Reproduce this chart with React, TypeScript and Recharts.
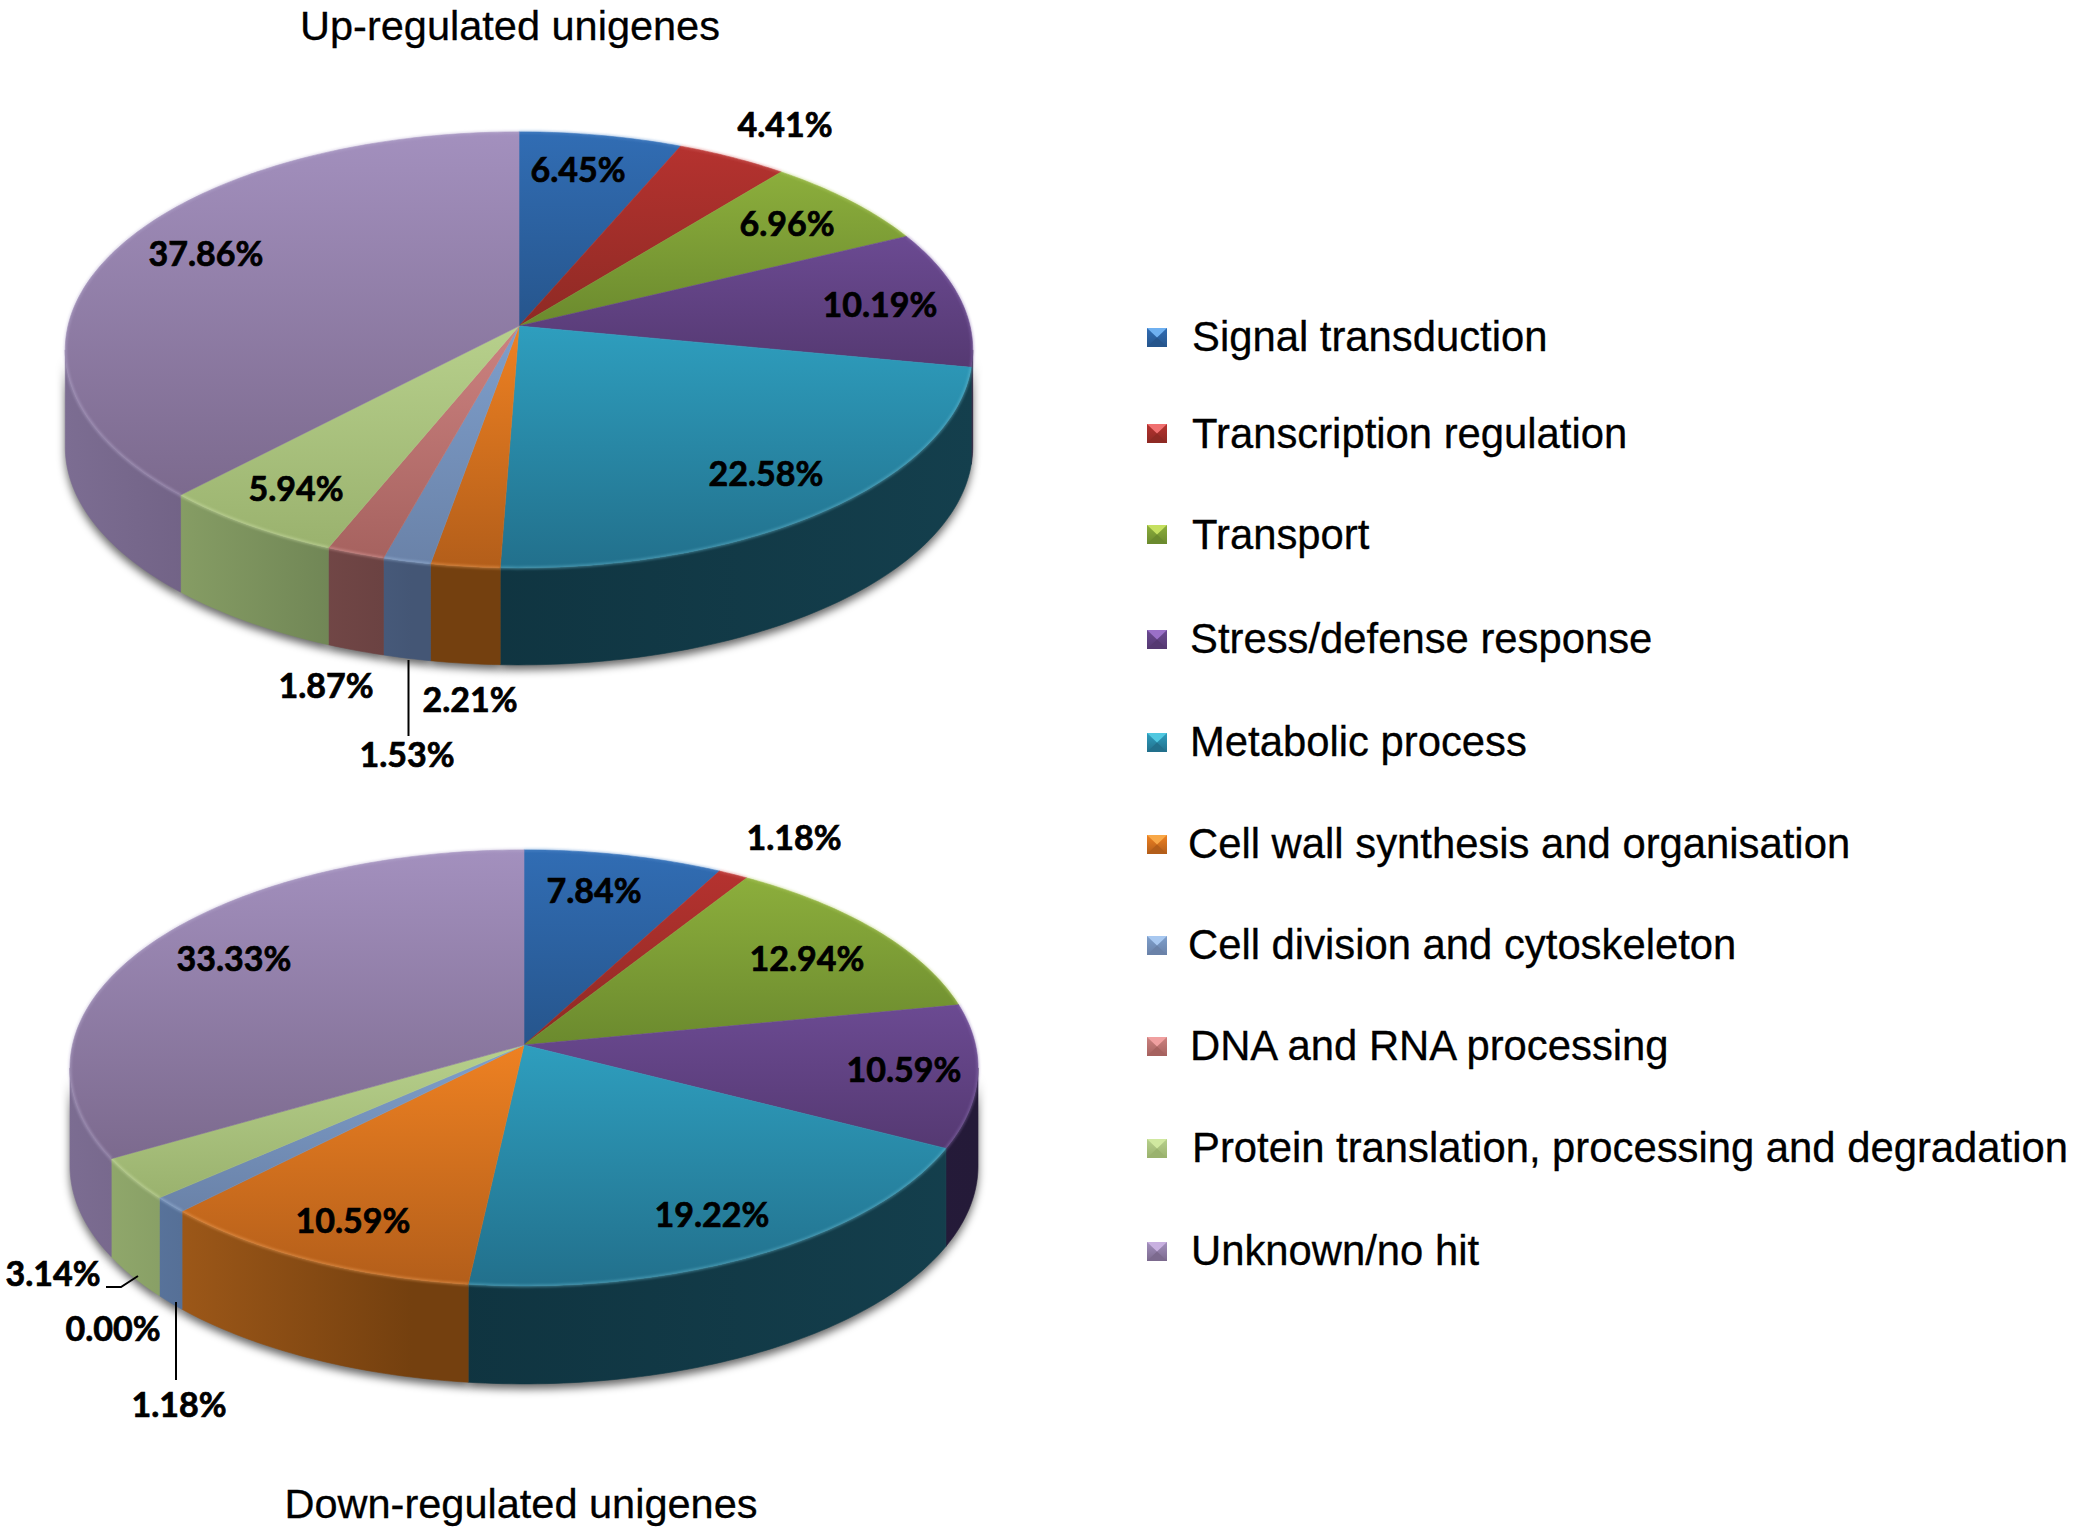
import React from "react";
import { PieChart, Pie, Legend } from "recharts";

const categories = [
  "Signal transduction",
  "Transcription regulation",
  "Transport",
  "Stress/defense response",
  "Metabolic process",
  "Cell wall synthesis and organisation",
  "Cell division and cytoskeleton",
  "DNA and RNA processing",
  "Protein translation, processing and degradation",
  "Unknown/no hit",
];
const upValues = [6.45, 4.41, 6.96, 10.19, 22.58, 2.21, 1.53, 1.87, 5.94, 37.86];
const downValues = [7.84, 1.18, 12.94, 10.59, 19.22, 10.59, 1.18, 0.0, 3.14, 33.33];
const upTitle = "Up-regulated unigenes";
const downTitle = "Down-regulated unigenes";

const upData = categories.map((name, i) => ({ name, value: upValues[i] }));
const downData = categories.map((name, i) => ({ name, value: downValues[i] }));

// styling
const topLight = ["#316DB4", "#B5322F", "#8CAE3C", "#6B4A92", "#2E9EBE", "#EE8122", "#7E9FCC", "#CC8280", "#B7D08C", "#A390BE"];
const topDark = ["#26558C", "#8E2A24", "#6B8A2E", "#553972", "#22708C", "#B35E1A", "#6A82A8", "#A6625F", "#9AB26E", "#7C6A8E"];
const rimColor = ["#5b8fd0", "#d86a66", "#b4d06a", "#8f72b4", "#6cc0d8", "#f7a860", "#a8c4e6", "#e4aaa8", "#d4e6b0", "#bcaed2"];
const wallStops = [
  ["#2a5590", "#1d3b66", "#1d3b66"],
  ["#7a2a28", "#5a1f1c", "#5a1f1c"],
  ["#5e7430", "#445423", "#445423"],
  ["#3a2960", "#2a1d44", "#241a38"],
  ["#1a5264", "#0f333f", "#143f4d"],
  ["#b0631d", "#74400f", "#74400f"],
  ["#5f7da8", "#445675", "#445675"],
  ["#8c5a58", "#684040", "#684040"],
  ["#96ae6f", "#657a4e", "#657a4e"],
  ["#7c6d92", "#5f5070", "#5f5070"],
];
const markerLight = ["#6FB0F0", "#F07070", "#C5E060", "#9A70C8", "#50C8E0", "#F8A848", "#A8C8F0", "#F0A0A0", "#D0E8A0", "#C8B0E0"];

// perspective of each disc
const upGeo = { cx: 519, cy: 326, rx: 451, ry: 218, k: -0.1096, depth: 97 };
const downGeo = { cx: 524, cy: 1045, rx: 451.5, ry: 218, k: -0.105, depth: 98 };

const upLabelPos: [number, number][] = [
  [578, 168.5], [785, 123.5], [787, 222.5], [880, 303.5], [766, 472.5],
  [470, 698.5], [407, 753.5], [326, 684.5], [296, 487.5], [206, 252.5],
];
const downLabelPos: [number, number][] = [
  [594, 889.5], [794, 836.5], [807, 957.5], [904, 1068.5], [712, 1213.5],
  [353, 1219.5], [179, 1403.5], [113, 1327.5], [53, 1272.5], [234, 957.5],
];
const upLeaders: Record<number, string> = { 6: "408.5,660 408.5,736" };
const downLeaders: Record<number, string> = {
  6: "176,1302 176,1380",
  8: "106,1287 121,1287 138,1276",
};

const legendTextX = [1192, 1192, 1192, 1190, 1190, 1188, 1188, 1190, 1192, 1191];
const legendY = [337, 433.5, 534.5, 639, 742, 844, 945, 1046, 1148, 1251];

type Geo = typeof upGeo;

const rimPoint = (g: Geo, clockDeg: number) => {
  const t = (clockDeg * Math.PI) / 180;
  const X = Math.sin(t);
  const Y = -Math.cos(t);
  const den = 1 + g.k * Y;
  const b = g.k * g.ry;
  return {
    x: g.cx + (X * g.rx) / den,
    y: g.cy + (g.ry * Y + b) / den - b,
  };
};

const sample = (g: Geo, a: number, b: number) => {
  const pts: { x: number; y: number }[] = [];
  const n = Math.max(1, Math.ceil(b - a));
  for (let i = 0; i <= n; i++) pts.push(rimPoint(g, a + ((b - a) * i) / n));
  return pts;
};

const toPath = (pts: { x: number; y: number }[]) =>
  pts.map((p, i) => `${i ? "L" : "M"}${p.x.toFixed(2)} ${p.y.toFixed(2)}`).join("");

const wallPath = (g: Geo, props: any) => {
  const a = 90 - props.startAngle;
  const b = 90 - props.endAngle;
  const lim = (Math.acos(g.k) * 180) / Math.PI;
  const s = Math.max(a, lim);
  const e = Math.min(b, 360 - lim);
  if (e <= s) return null;
  const pts = sample(g, s, e);
  const low = pts.slice().reverse().map((p) => ({ x: p.x, y: p.y + g.depth }));
  return toPath(pts.concat(low)) + "Z";
};

const makeShadow = (g: Geo) => (props: any) => {
  const d = wallPath(g, props);
  if (!d) return <g />;
  return <path d={d} fill="#000" fillOpacity={0.6} transform="translate(0 5)" filter="url(#pieShadow)" />;
};

const makeWall = (g: Geo) => (props: any) => {
  const d = wallPath(g, props);
  if (!d) return <g />;
  const paint = `url(#wall-${props.index})`;
  return <path d={d} fill={paint} stroke={paint} strokeWidth={0.6} />;
};

const makeTop = (g: Geo) => (props: any) => {
  const a = 90 - props.startAngle;
  const b = 90 - props.endAngle;
  if (b - a <= 0) return <g />;
  const pts = sample(g, a, b);
  const paint = `url(#top-${props.index})`;
  return (
    <g>
      <path d={`M${g.cx} ${g.cy}` + toPath(pts).replace("M", "L") + "Z"} fill={paint} stroke={paint} strokeWidth={0.6} />
      <path d={toPath(pts)} fill="none" stroke={rimColor[props.index]} strokeOpacity={0.4} strokeWidth={3} filter="url(#rimBlur)" />
    </g>
  );
};

const makeLabel = (pos: [number, number][]) => (props: any) => {
  const [x, y] = pos[props.index];
  return (
    <text
      key={props.index}
      x={x}
      y={y}
      textAnchor="middle"
      dominantBaseline="central"
      fontFamily="Lato"
      fontWeight={700}
      fontSize={34}
      fill="#000"
      stroke="#000"
      strokeWidth={0.7}
    >
      {Number(props.value).toFixed(2)}%
    </text>
  );
};

const makeLeader = (leaders: Record<number, string>) => (props: any) => {
  const pts = leaders[props.index];
  if (!pts) return <g key={props.index} />;
  return <polyline key={props.index} points={pts} fill="none" stroke="#000" strokeWidth={2} />;
};

const legendContent = () => (
  <div style={{ position: "relative", width: 2078, height: 1536 }}>
    {categories.map((name, i) => (
      <React.Fragment key={name}>
        <svg
          width={20}
          height={19}
          viewBox="0 0 19 18"
          preserveAspectRatio="none"
          style={{ position: "absolute", left: 1146.5, top: legendY[i] - 9.5 }}
        >
          <rect width={19} height={18} fill={`url(#top-${i})`} />
          <polygon points="0,0 19,0 9.5,9" fill={markerLight[i]} />
          <polygon points="0,18 19,18 9.5,9" fill={topDark[i]} />
        </svg>
        <div
          style={{
            position: "absolute",
            left: legendTextX[i],
            top: legendY[i] - 30,
            height: 60,
            lineHeight: "60px",
            fontFamily: "'Liberation Sans'",
            fontSize: 41.8,
            color: "#000",
            WebkitTextStroke: "0.3px #000",
            whiteSpace: "nowrap",
          }}
        >
          {name}
        </div>
      </React.Fragment>
    ))}
  </div>
);

const disc = (data: any[], g: Geo, pos: [number, number][], leaders: Record<number, string>, id: string) => {
  const common = {
    data,
    dataKey: "value",
    nameKey: "name",
    cx: g.cx,
    cy: g.cy,
    outerRadius: g.rx,
    startAngle: 90,
    endAngle: -270,
    isAnimationActive: false,
    stroke: "none",
  };
  return [
    <Pie key={id + "s"} {...common} shape={makeShadow(g)} label={false} labelLine={false} legendType="none" />,
    <Pie key={id + "w"} {...common} shape={makeWall(g)} label={false} labelLine={false} legendType="none" />,
    <Pie key={id + "t"} {...common} shape={makeTop(g)} label={makeLabel(pos)} labelLine={makeLeader(leaders)} />,
  ];
};

export default function App() {
  return (
    <div style={{ position: "absolute", left: 0, top: 0, width: 2078, height: 1536, background: "#fff" }}>
      <PieChart width={2078} height={1536} margin={{ top: 0, right: 0, bottom: 0, left: 0 }} accessibilityLayer={false}>
        <defs>
          <filter id="pieShadow" filterUnits="userSpaceOnUse" x="0" y="0" width="2078" height="1536">
            <feGaussianBlur stdDeviation="4.5" />
          </filter>
          <filter id="rimBlur" filterUnits="userSpaceOnUse" x="0" y="0" width="2078" height="1536">
            <feGaussianBlur stdDeviation="1" />
          </filter>
          {categories.map((_, i) => (
            <linearGradient key={"t" + i} id={`top-${i}`} x1="0" y1="0" x2="0" y2="1">
              <stop offset="0" stopColor={topLight[i]} />
              <stop offset="1" stopColor={topDark[i]} />
            </linearGradient>
          ))}
          {categories.map((_, i) => (
            <linearGradient key={"w" + i} id={`wall-${i}`} gradientUnits="userSpaceOnUse" x1="65" y1="0" x2="979" y2="0">
              <stop offset="0" stopColor={wallStops[i][0]} />
              <stop offset="0.38" stopColor={wallStops[i][1]} />
              <stop offset="1" stopColor={wallStops[i][2]} />
            </linearGradient>
          ))}
        </defs>
        {disc(upData, upGeo, upLabelPos, upLeaders, "up")}
        {disc(downData, downGeo, downLabelPos, downLeaders, "down")}
        <text x={510} y={25} textAnchor="middle" dominantBaseline="central" fontFamily="'Liberation Sans'" fontSize={41.5} fill="#000" stroke="#000" strokeWidth={0.3}>
          {upTitle}
        </text>
        <text x={521} y={1503} textAnchor="middle" dominantBaseline="central" fontFamily="'Liberation Sans'" fontSize={41.5} fill="#000" stroke="#000" strokeWidth={0.3}>
          {downTitle}
        </text>
        <Legend content={legendContent} wrapperStyle={{ left: 0, top: 0, width: 2078, height: 1536, pointerEvents: "none" }} />
      </PieChart>
    </div>
  );
}
